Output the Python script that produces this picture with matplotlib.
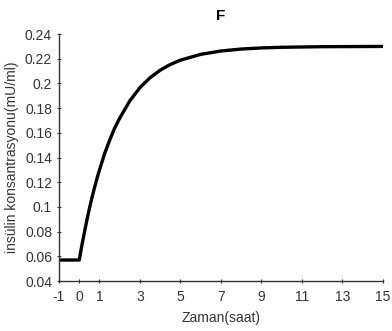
import numpy as np
import matplotlib
matplotlib.use('Agg')
import matplotlib.pyplot as plt

plt.rcParams['font.family'] = ['Liberation Sans', 'DejaVu Sans']
plt.rcParams['axes.unicode_minus'] = False

# insulin concentration vs time
zaman = [-1, 0, 0.125, 0.25, 0.375, 0.5, 0.625, 0.75, 0.875, 1, 1.25, 1.5, 1.75, 2, 2.5,
         3, 3.5, 4, 4.5, 5, 6, 7, 8, 9, 10, 12, 15]
insulin = [0.057, 0.057, 0.0685, 0.079, 0.0892, 0.0986, 0.1073, 0.1154, 0.1230, 0.130,
           0.143, 0.154, 0.1639, 0.172, 0.186, 0.1967, 0.2047, 0.2108, 0.2154, 0.2189,
           0.2236, 0.2263, 0.2279, 0.2288, 0.2293, 0.2298, 0.2300]
xticks = [-1, 0, 1, 3, 5, 7, 9, 11, 13, 15]
yticks = [0.04, 0.06, 0.08, 0.1, 0.12, 0.14, 0.16, 0.18, 0.2, 0.22, 0.24]
ytick_labels = ['0.04', '0.06', '0.08', '0.1', '0.12', '0.14', '0.16', '0.18', '0.2', '0.22', '0.24']

fig = plt.figure(figsize=(3.92, 3.31), dpi=100)
ax = fig.add_axes([0.1505, 0.151, 0.8265, 0.746])
ax.plot(zaman, insulin, color='black', lw=2.4, solid_capstyle='butt', solid_joinstyle='round')
ax.set_xlim(-1, 15)
ax.set_ylim(0.04, 0.24)
ax.set_xticks(xticks)
ax.set_yticks(yticks)
ax.set_yticklabels(ytick_labels)
for s in ['top', 'right']:
    ax.spines[s].set_visible(False)
for s in ['left', 'bottom']:
    ax.spines[s].set_color('#333333')
    ax.spines[s].set_linewidth(1.0)
ax.tick_params(axis='both', labelsize=10, colors='#333333', length=3, direction='inout')
ax.tick_params(axis='x', pad=5)
ax.set_title('F', fontsize=11, fontweight='bold', pad=10)
ax.set_xlabel('Zaman(saat)', fontsize=10, color='#333333', labelpad=5)
ax.set_ylabel('insülin konsantrasyonu(mU/ml)', fontsize=10, color='#333333', labelpad=4)

fig.savefig('out.png', dpi=100)
